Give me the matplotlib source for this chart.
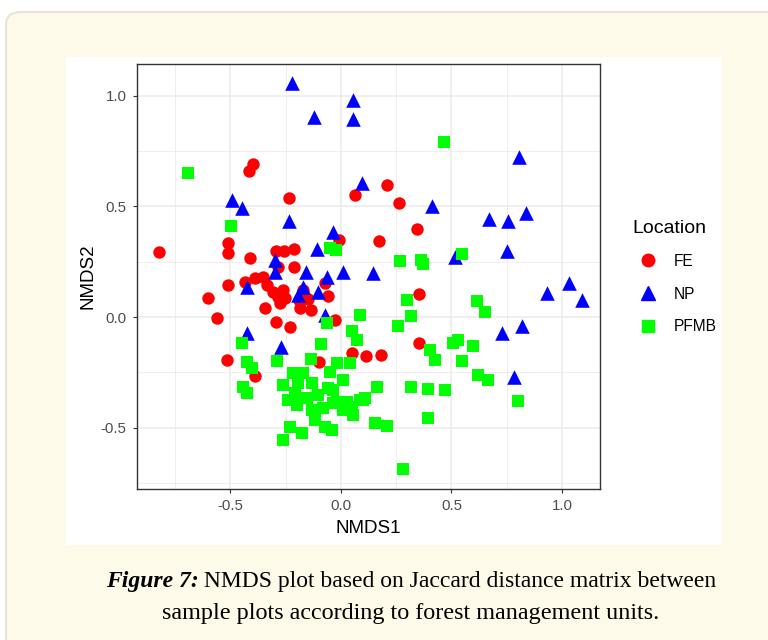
import matplotlib
matplotlib.use('Agg')
import matplotlib.pyplot as plt
from matplotlib.patches import FancyBboxPatch, Rectangle
from matplotlib.lines import Line2D

# NMDS scores
fe_x = [-0.824, -0.397, -0.416, -0.235, 0.063, -0.510, -0.510, -0.412, -0.295, -0.258,
        -0.213, -0.287, -0.213, -0.008, 0.210, 0.261, 0.345, 0.173, -0.603, -0.560,
        -0.510, -0.517, -0.389, -0.344, -0.295, -0.231, -0.434, -0.389, -0.352, -0.336,
        -0.306, -0.284, -0.261, -0.253, -0.276, -0.072, -0.170, -0.148, -0.057, -0.189,
        -0.186, -0.137, -0.027, 0.353, 0.353, 0.112, 0.180, 0.048, -0.098]
fe_y = [0.295, 0.691, 0.660, 0.536, 0.551, 0.333, 0.291, 0.265, 0.300, 0.300,
        0.306, 0.228, 0.227, 0.348, 0.596, 0.517, 0.399, 0.343, 0.085, -0.003,
        0.145, -0.194, -0.267, 0.039, -0.021, -0.047, 0.160, 0.178, 0.182, 0.145,
        0.114, 0.092, 0.122, 0.085, 0.062, 0.152, 0.122, 0.081, 0.096, 0.077,
        0.039, 0.032, -0.014, 0.103, -0.119, -0.176, -0.172, -0.164, -0.202]

np_x = [-0.223, 0.056, -0.122, 0.053, 0.094, -0.495, -0.447, -0.234, -0.038, -0.107,
        -0.299, -0.299, -0.158, -0.062, 0.010, 0.143, 0.804, 0.413, 0.671, 0.756,
        0.837, 0.750, 0.516, 0.931, 1.033, 1.089, 0.820, 0.727, 0.783, -0.427,
        -0.427, -0.273, -0.173, -0.103, -0.193, -0.072]
np_y = [1.058, 0.980, 0.905, 0.893, 0.607, 0.529, 0.491, 0.435, 0.386, 0.307,
        0.258, 0.205, 0.205, 0.182, 0.205, 0.200, 0.724, 0.503, 0.441, 0.435,
        0.468, 0.300, 0.272, 0.107, 0.152, 0.077, -0.041, -0.071, -0.272, -0.074,
        0.137, -0.137, 0.137, 0.114, 0.100, 0.009]

pf_x = [-0.690, -0.498, -0.050, -0.023, 0.468, 0.548, 0.267, 0.362, 0.370, 0.297,
        0.614, 0.650, 0.317, 0.256, 0.088, 0.505, 0.528, 0.599, 0.403, 0.425,
        0.546, 0.621, 0.667, 0.161, 0.100, 0.315, 0.395, 0.470, 0.802, 0.395,
        0.154, 0.210, 0.282, -0.065, 0.048, 0.071, -0.449, -0.427, -0.404, -0.442,
        -0.427, -0.288, -0.092, -0.137, -0.050, -0.216, -0.261, -0.171, -0.193, -0.133,
        -0.208, -0.238, -0.155, -0.103, -0.057, -0.080, -0.133, -0.200, -0.035, -0.231,
        -0.261, -0.178, -0.118, -0.072, -0.042, -0.019, 0.041, 0.010, -0.035, -0.019,
        0.026, 0.086, 0.109, 0.010, 0.056, 0.048]
pf_y = [0.652, 0.413, 0.310, 0.303, 0.792, 0.285, 0.253, 0.258, 0.240, 0.077,
        0.072, 0.021, 0.005, -0.041, 0.010, -0.119, -0.104, -0.131, -0.149, -0.194,
        -0.197, -0.262, -0.285, -0.318, -0.375, -0.315, -0.325, -0.330, -0.380, -0.458,
        -0.478, -0.492, -0.688, -0.028, -0.065, -0.104, -0.119, -0.202, -0.232, -0.315,
        -0.345, -0.197, -0.122, -0.191, -0.247, -0.254, -0.307, -0.254, -0.300, -0.300,
        -0.345, -0.375, -0.367, -0.352, -0.322, -0.413, -0.420, -0.398, -0.390, -0.496,
        -0.556, -0.526, -0.465, -0.496, -0.511, -0.209, -0.209, -0.285, -0.330, -0.383,
        -0.383, -0.375, -0.367, -0.420, -0.443, -0.405]

x_ticks = [-0.5, 0.0, 0.5, 1.0]
y_ticks = [-0.5, 0.0, 0.5, 1.0]

W, H = 768, 640
plt.rcParams['font.family'] = ['Liberation Sans', 'DejaVu Sans']
fig = plt.figure(figsize=(W / 100, H / 100), dpi=100)
fig.patch.set_facecolor('white')

# cream page panel and white figure box behind the chart
fig.patches.append(FancyBboxPatch((6 / W, 1 - 652 / H), 780 / W, 640 / H,
                                  boxstyle='round,pad=0,rounding_size=0.02',
                                  transform=fig.transFigure, facecolor='#fdfae9',
                                  edgecolor='#e6e4da', linewidth=1.5, zorder=-2))
fig.patches.append(Rectangle((66 / W, 1 - 545 / H), 656 / W, 488 / H,
                             transform=fig.transFigure, facecolor='white',
                             edgecolor='none', zorder=-1))

ax = fig.add_axes([137 / W, 1 - 489 / H, 463 / W, 425 / H])
ax.set_facecolor('white')

ax.scatter(fe_x, fe_y, marker='o', s=80, color='#ff0000', linewidths=0, zorder=3, label='FE')
ax.scatter(np_x, np_y, marker='^', s=110, color='#0000ff', linewidths=0, zorder=3, label='NP')
ax.scatter(pf_x, pf_y, marker='s', s=84, color='#00ff00', linewidths=0, zorder=3, label='PFMB')

ax.set_xlim(-0.923, 1.172)
ax.set_ylim(-0.777, 1.143)
ax.set_xticks(x_ticks)
ax.set_yticks(y_ticks)
ax.set_xticks([-0.75, -0.25, 0.25, 0.75], minor=True)
ax.set_yticks([-0.75, -0.25, 0.25, 0.75], minor=True)
ax.set_xticklabels(['-0.5', '0.0', '0.5', '1.0'])
ax.set_yticklabels(['-0.5', '0.0', '0.5', '1.0'])
ax.grid(True, which='major', color='#ebebeb', linewidth=1.1, zorder=0)
ax.grid(True, which='minor', color='#ebebeb', linewidth=0.6, zorder=0)
ax.set_axisbelow(True)
ax.tick_params(which='major', length=3, width=0.8, color='#333333',
               labelsize=10.8, labelcolor='#4d4d4d', pad=4.5)
ax.tick_params(which='minor', length=0)
for sp in ax.spines.values():
    sp.set_color('#333333')
    sp.set_linewidth(1.0)

ax.set_xlabel('NMDS1', fontsize=13.5, color='black', labelpad=5)
ax.set_ylabel('NMDS2', fontsize=13.5, color='black', labelpad=3)

handles = [Line2D([], [], marker='o', color='#ff0000', linestyle='none', markersize=9),
           Line2D([], [], marker='^', color='#0000ff', linestyle='none', markersize=10),
           Line2D([], [], marker='s', color='#00ff00', linestyle='none', markersize=8.5)]
leg = fig.legend(handles, ['FE', 'NP', 'PFMB'], title='Location', loc='upper left',
                 bbox_to_anchor=(632 / W, 1 - 220 / H), frameon=False, fontsize=11.2,
                 title_fontsize=14, labelspacing=1.15, handletextpad=0.6,
                 handlelength=2.1, borderaxespad=0, borderpad=0)
leg._legend_box.align = 'left'
leg._legend_box.sep = 12

# caption: bold italic lead-in followed by regular text
cap_font = ['Liberation Serif', 'DejaVu Serif']
renderer = fig.canvas.get_renderer()
lead = fig.text(0, 0, 'Figure 7:', fontsize=17, family=cap_font,
                fontweight='bold', fontstyle='italic', va='center')
rest = fig.text(0, 0, ' NMDS plot based on Jaccard distance matrix between',
                fontsize=17, family=cap_font, va='center')
w1 = lead.get_window_extent(renderer).width
w2 = rest.get_window_extent(renderer).width
x0 = 411 - (w1 + w2) / 2
lead.set_position((x0 / W, 1 - 581 / H))
rest.set_position(((x0 + w1) / W, 1 - 581 / H))
fig.text(411 / W, 1 - 613 / H, 'sample plots according to forest management units.',
         fontsize=17.4, family=cap_font, ha='center', va='center')

fig.savefig('out.png', dpi=100, facecolor=fig.get_facecolor())
